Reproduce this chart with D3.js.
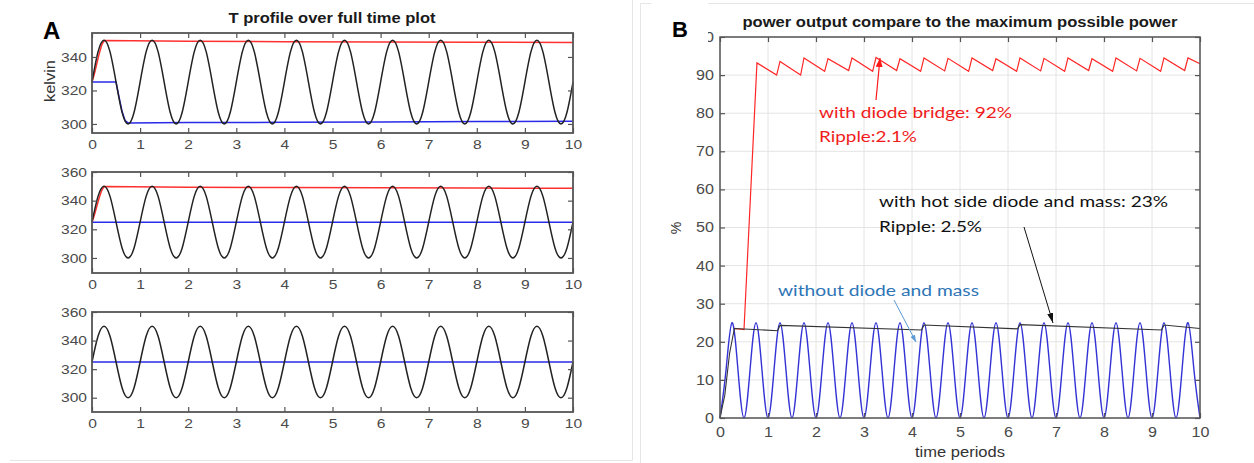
<!DOCTYPE html>
<html>
<head>
<meta charset="utf-8">
<script src="https://cdn.jsdelivr.net/npm/d3@7"></script>
<style>
  body { margin: 0; background: #fff; }
  svg text { font-family: "Liberation Sans", Arial, sans-serif; }
  svg text.note { font-family: Lato, "Open Sans", sans-serif; }
</style>
</head>
<body>
<script>
// ---- values ----
const xTicks = [0, 1, 2, 3, 4, 5, 6, 7, 8, 9, 10];
const kelvinTicksTop = [300, 320, 340];
const kelvinTicks = [300, 320, 340, 360];
const percentTicks = [0, 10, 20, 30, 40, 50, 60, 70, 80, 90, 100];

// traces with a sine shape are read every 1/8 of a period
const tSine = d3.range(0, 10.0001, 0.125);

// panel A (kelvin)
const blackA = [
  325, 343, 350, 343, 325, 307, 300, 307,
  325, 343, 350, 343, 325, 307, 300, 307,
  325, 343, 350, 343, 325, 307, 300, 307,
  325, 343, 350, 343, 325, 307, 300, 307,
  325, 343, 350, 343, 325, 307, 300, 307,
  325, 343, 350, 343, 325, 307, 300, 307,
  325, 343, 350, 343, 325, 307, 300, 307,
  325, 343, 350, 343, 325, 307, 300, 307,
  325, 343, 350, 343, 325, 307, 300, 307,
  325, 343, 350, 343, 325, 307, 300, 307,
  325
];
const redAt = [0, 0.05, 0.1, 0.15, 0.2, 0.25, 2, 4, 6, 8, 10];
const redAv = [325, 330, 336, 342, 347, 349.8, 349.4, 349.1, 349, 348.8, 348.6];
const blueTopT = [0, 0.5, 0.5625, 0.625, 0.6875, 0.75, 2, 4, 6, 8, 10];
const blueTopV = [325, 325, 316, 307.5, 302, 300.6, 300.8, 301, 301.2, 301.4, 301.6];
const blueFlatT = [0, 10];
const blueFlatV = [325, 325];

// panel B (percent)
const blueB = [
  0, 12.5, 25, 12.5, 0, 12.5, 25, 12.5, 0, 12.5, 25, 12.5, 0, 12.5, 25, 12.5,
  0, 12.5, 25, 12.5, 0, 12.5, 25, 12.5, 0, 12.5, 25, 12.5, 0, 12.5, 25, 12.5,
  0, 12.5, 25, 12.5, 0, 12.5, 25, 12.5, 0, 12.5, 25, 12.5, 0, 12.5, 25, 12.5,
  0, 12.5, 25, 12.5, 0, 12.5, 25, 12.5, 0, 12.5, 25, 12.5, 0, 12.5, 25, 12.5,
  0, 12.5, 25, 12.5, 0, 12.5, 25, 12.5, 0, 12.5, 25, 12.5, 0, 12.5, 25, 12.5,
  0
];
const blackBt = [0, 0.1, 0.2, 0.3, 1.2, 1.25, 4.2, 4.25, 6.2, 6.25, 9.2, 9.25, 10];
const blackBv = [0, 6, 17, 23.5, 22.9, 24.3, 23.1, 24.4, 23.4, 24.5, 23.1, 24.4, 23.5];
const redBt = [0.3, 0.5, 0.77,
  1.18, 1.25, 1.68, 1.75, 2.18, 2.25, 2.68, 2.75, 3.18, 3.25, 3.68, 3.75,
  4.18, 4.25, 4.68, 4.75, 5.18, 5.25, 5.68, 5.75, 6.18, 6.25, 6.68, 6.75,
  7.18, 7.25, 7.68, 7.75, 8.18, 8.25, 8.68, 8.75, 9.18, 9.25, 9.68, 9.75, 10];
const redBv = [23.5, 23.2, 93.2,
  90.0, 93.6, 90.0, 94.5, 91.0, 94.3, 91.2, 94.5, 91.0, 94.6, 91.2, 94.3,
  91.0, 94.5, 91.1, 94.4, 91.0, 94.5, 91.2, 94.3, 91.0, 94.5, 91.1, 94.4,
  91.0, 94.5, 91.2, 94.3, 91.0, 94.5, 91.1, 94.4, 91.0, 94.5, 91.2, 94.5, 93.0];

// ---- drawing ----
let svg = d3.select("body").append("svg")
    .attr("width", 1254)
    .attr("height", 463);

function stretch(sel, k) {
    sel.each(function() {
        let w = this.getComputedTextLength();
        d3.select(this).attr("textLength", w * k).attr("lengthAdjust", "spacingAndGlyphs");
    });
}

function fitText(sel, w) {
    sel.attr("textLength", w).attr("lengthAdjust", "spacingAndGlyphs");
}

// faint panel borders
svg.append("path").attr("d", "M632.5,0V460.5H10").attr("fill", "none").attr("stroke", "#e6e6e6");
svg.append("path").attr("d", "M640.5,463V3.5H1254").attr("fill", "none").attr("stroke", "#e6e6e6");

function frame(g, x, y, yTicks, padX, padY, fs, k, boxW) {
    let [x0, x1] = x.range();
    let [yb, yt] = y.range();
    g.append("g").attr("transform", `translate(0,${yb})`)
        .call(d3.axisBottom(x).tickValues(xTicks).tickSize(-5).tickPadding(padX).tickFormat(d3.format("d")));
    g.append("g").attr("transform", `translate(0,${yt})`)
        .call(d3.axisTop(x).tickValues(xTicks).tickSize(-5).tickFormat(""));
    g.append("g").attr("transform", `translate(${x0},0)`)
        .call(d3.axisLeft(y).tickValues(yTicks).tickSize(-5).tickPadding(padY));
    g.append("g").attr("transform", `translate(${x1},0)`)
        .call(d3.axisRight(y).tickValues(yTicks).tickSize(-5).tickFormat(""));
    g.selectAll(".domain").remove();
    g.selectAll(".tick line").attr("stroke", "#555").attr("stroke-width", 1.2);
    g.selectAll(".tick text").attr("fill", "#4a4a4a").attr("font-size", fs);
    stretch(g.selectAll(".tick text"), k);
    g.append("rect")
        .attr("x", x0).attr("y", yt)
        .attr("width", x1 - x0).attr("height", yb - yt)
        .attr("fill", "none").attr("stroke", "#555").attr("stroke-width", boxW);
}

function kelvinPlot(top, bottom, yDomain, yTicks, series) {
    let x = d3.scaleLinear().domain([0, 10]).range([92, 573]);
    let y = d3.scaleLinear().domain(yDomain).range([bottom, top]);
    let g = svg.append("g");
    series.forEach(s => {
        g.append("path")
            .datum(d3.zip(s.t, s.v))
            .attr("fill", "none")
            .attr("stroke", s.color)
            .attr("stroke-width", 1.5)
            .attr("d", d3.line().x(d => x(d[0])).y(d => y(d[1])).curve(s.curve || d3.curveLinear));
    });
    frame(g, x, y, yTicks, 7, 5, 13, 1.2, 1.8);
}

kelvinPlot(33, 133, [294.6, 354.3], kelvinTicksTop, [
    {t: redAt, v: redAv, color: "#ff3030"},
    {t: blueTopT, v: blueTopV, color: "#2a2ae8"},
    {t: tSine, v: blackA, color: "#222", curve: d3.curveNatural}
]);
kelvinPlot(172, 273, [289.5, 360], kelvinTicks, [
    {t: redAt, v: redAv, color: "#ff3030"},
    {t: blueFlatT, v: blueFlatV, color: "#2a2ae8"},
    {t: tSine, v: blackA, color: "#222", curve: d3.curveNatural}
]);
kelvinPlot(312, 412, [290, 360], kelvinTicks, [
    {t: blueFlatT, v: blueFlatV, color: "#2a2ae8"},
    {t: tSine, v: blackA, color: "#222", curve: d3.curveNatural}
]);

// panel A labels
svg.append("text").attr("x", 43).attr("y", 39)
    .attr("font-size", 24).attr("font-weight", "bold").text("A");
fitText(svg.append("text").attr("x", 332).attr("y", 23).attr("text-anchor", "middle")
    .attr("font-size", 14).attr("font-weight", "bold").attr("fill", "#1a1a1a")
    .text("T profile over full time plot"), 207);
fitText(svg.append("text").attr("transform", "translate(55,81) rotate(-90)").attr("text-anchor", "middle")
    .attr("font-size", 14).attr("fill", "#333").text("kelvin"), 42);

// panel B
let xB = d3.scaleLinear().domain([0, 10]).range([720, 1200]);
let yB = d3.scaleLinear().domain([0, 100]).range([418, 37]);
let gB = svg.append("g");

gB.append("g").selectAll("line.gx").data(xTicks).enter().append("line")
    .attr("x1", d => xB(d)).attr("x2", d => xB(d)).attr("y1", 37).attr("y2", 418)
    .attr("stroke", "#e4e4e4");
gB.append("g").selectAll("line.gy").data(percentTicks).enter().append("line")
    .attr("x1", 720).attr("x2", 1200).attr("y1", d => yB(d)).attr("y2", d => yB(d))
    .attr("stroke", "#e4e4e4");

let lineB = d3.line().x(d => xB(d[0])).y(d => yB(d[1]));
gB.append("path").datum(d3.zip(tSine, blueB))
    .attr("fill", "none").attr("stroke", "#3434d6").attr("stroke-width", 1.4)
    .attr("d", lineB.curve(d3.curveNatural));
gB.append("path").datum(d3.zip(redBt, redBv))
    .attr("fill", "none").attr("stroke", "#ff2626").attr("stroke-width", 1.2)
    .attr("d", lineB.curve(d3.curveLinear));
gB.append("path").datum(d3.zip(blackBt, blackBv))
    .attr("fill", "none").attr("stroke", "#333").attr("stroke-width", 1.1)
    .attr("d", lineB.curve(d3.curveLinear));

frame(gB, xB, yB, percentTicks, 9, 6, 14, 1.15, 1.5);

// the "100" label is cut off in the original
svg.append("rect").attr("x", 651).attr("y", 0).attr("width", 57).attr("height", 46).attr("fill", "#fff");

svg.append("text").attr("x", 672).attr("y", 37)
    .attr("font-size", 22).attr("font-weight", "bold").text("B");
fitText(svg.append("text").attr("x", 960).attr("y", 27).attr("text-anchor", "middle")
    .attr("font-size", 14).attr("font-weight", "bold").attr("fill", "#1a1a1a")
    .text("power output compare to the maximum possible power"), 435);
svg.append("text").attr("transform", "translate(681,228) rotate(-90)").attr("text-anchor", "middle")
    .attr("font-size", 14).attr("fill", "#333").text("%");
fitText(svg.append("text").attr("x", 960).attr("y", 457).attr("text-anchor", "middle")
    .attr("font-size", 14).attr("fill", "#333").text("time periods"), 90);

// annotations
let defs = svg.append("defs");
function arrowMarker(id, color, len, wid) {
    defs.append("marker").attr("id", id)
        .attr("viewBox", `0 0 ${len} ${wid}`)
        .attr("refX", len).attr("refY", wid / 2)
        .attr("markerWidth", len).attr("markerHeight", wid)
        .attr("markerUnits", "userSpaceOnUse").attr("orient", "auto")
        .append("path").attr("d", `M0,0L${len},${wid / 2}L0,${wid}Z`).attr("fill", color);
}
arrowMarker("arRed", "#ff1a1a", 9, 7);
arrowMarker("arBlack", "#111", 10, 6);
arrowMarker("arBlue", "#5b9bd5", 7, 5);

svg.append("line").attr("x1", 876).attr("y1", 100).attr("x2", 880).attr("y2", 58)
    .attr("stroke", "#ff1a1a").attr("stroke-width", 1.2).attr("marker-end", "url(#arRed)");
svg.append("line").attr("x1", 1024).attr("y1", 227).attr("x2", 1053).attr("y2", 323)
    .attr("stroke", "#111").attr("stroke-width", 1).attr("marker-end", "url(#arBlack)");
svg.append("line").attr("x1", 894).attr("y1", 300).attr("x2", 916).attr("y2", 342)
    .attr("stroke", "#5b9bd5").attr("stroke-width", 1).attr("marker-end", "url(#arBlue)");

function note(x, y, txt, color, w) {
    fitText(svg.append("text").attr("class", "note").attr("x", x).attr("y", y)
        .attr("font-size", 16).attr("fill", color).text(txt), w);
}
note(819, 118, "with diode bridge: 92%", "#f01c1c", 193);
note(819, 142, "Ripple:2.1%", "#f01c1c", 98);
note(879, 207, "with hot side diode and mass: 23%", "#111", 289);
note(879, 232, "Ripple: 2.5%", "#111", 103);
note(778, 296, "without diode and mass", "#2e75b6", 201);
</script>
</body>
</html>
